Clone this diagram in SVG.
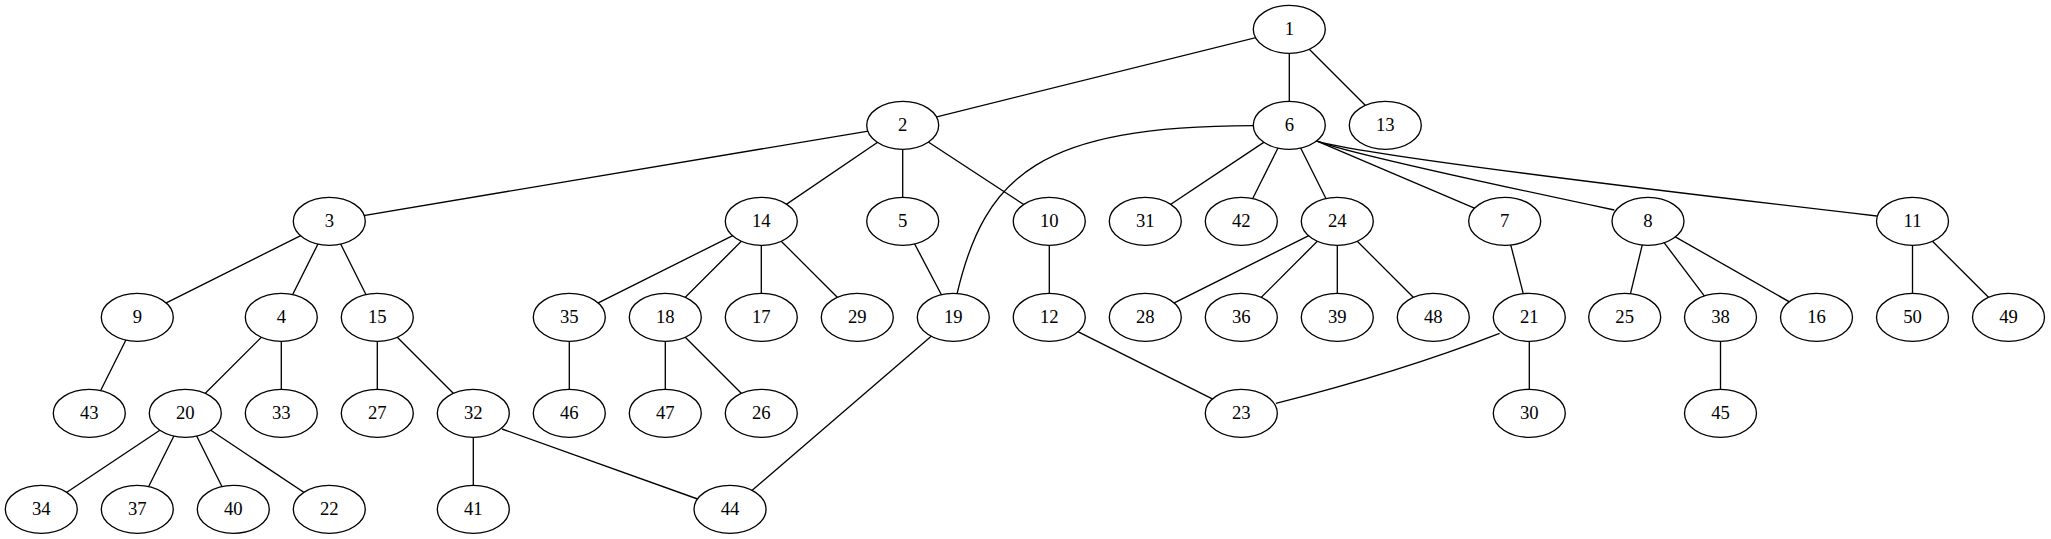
<svg xmlns="http://www.w3.org/2000/svg" width="2051" height="539" viewBox="0 0 2051 539">
<style>
.n ellipse{fill:#fff;stroke:#000;stroke-width:1.33}
.n text{font-family:"Liberation Serif","Times New Roman",serif;font-size:18.67px;text-anchor:middle;fill:#000}
#edges path,#edges line{fill:none;stroke:#000;stroke-width:1.33}
</style>
<rect width="2051" height="539" fill="#fff"/>
<g id="edges">
<line x1="1289.3" y1="29.3" x2="902.7" y2="125.3"/>
<line x1="1289.3" y1="29.3" x2="1289.3" y2="125.3"/>
<line x1="1289.3" y1="29.3" x2="1385.3" y2="125.3"/>
<line x1="902.7" y1="125.3" x2="329.3" y2="221.3"/>
<line x1="902.7" y1="125.3" x2="761.3" y2="221.3"/>
<line x1="902.7" y1="125.3" x2="902.7" y2="221.3"/>
<line x1="902.7" y1="125.3" x2="1049.3" y2="221.3"/>
<path d="M1253.5,125.7 C1040,126 985,175 957,294"/>
<line x1="1289.3" y1="125.3" x2="1145.3" y2="221.3"/>
<line x1="1289.3" y1="125.3" x2="1241.3" y2="221.3"/>
<line x1="1289.3" y1="125.3" x2="1337.3" y2="221.3"/>
<path d="M1316.5,140.8 L1475,208.3"/>
<path d="M1316.5,140.8 Q1345,153 1614.3,210"/>
<path d="M1316.5,140.8 Q1360,156 1876.8,216"/>
<line x1="329.3" y1="221.3" x2="137.3" y2="317.3"/>
<line x1="329.3" y1="221.3" x2="281.3" y2="317.3"/>
<line x1="329.3" y1="221.3" x2="377.3" y2="317.3"/>
<line x1="761.3" y1="221.3" x2="569.3" y2="317.3"/>
<line x1="761.3" y1="221.3" x2="665.3" y2="317.3"/>
<line x1="761.3" y1="221.3" x2="761.3" y2="317.3"/>
<line x1="761.3" y1="221.3" x2="857.3" y2="317.3"/>
<line x1="902.7" y1="221.3" x2="953.3" y2="317.3"/>
<line x1="1049.3" y1="221.3" x2="1049.3" y2="317.3"/>
<line x1="1337.3" y1="221.3" x2="1145.3" y2="317.3"/>
<line x1="1337.3" y1="221.3" x2="1241.3" y2="317.3"/>
<line x1="1337.3" y1="221.3" x2="1337.3" y2="317.3"/>
<line x1="1337.3" y1="221.3" x2="1433.3" y2="317.3"/>
<line x1="1504.7" y1="221.3" x2="1529.3" y2="317.3"/>
<line x1="1648" y1="221.3" x2="1624.7" y2="317.3"/>
<line x1="1648" y1="221.3" x2="1720.5" y2="317.3"/>
<line x1="1648" y1="221.3" x2="1816.5" y2="317.3"/>
<line x1="1912.5" y1="221.3" x2="1912.5" y2="317.3"/>
<line x1="1912.5" y1="221.3" x2="2008.5" y2="317.3"/>
<line x1="137.3" y1="317.3" x2="89.3" y2="413.3"/>
<line x1="281.3" y1="317.3" x2="185.3" y2="413.3"/>
<line x1="281.3" y1="317.3" x2="281.3" y2="413.3"/>
<line x1="377.3" y1="317.3" x2="377.3" y2="413.3"/>
<line x1="377.3" y1="317.3" x2="473.3" y2="413.3"/>
<line x1="569.3" y1="317.3" x2="569.3" y2="413.3"/>
<line x1="665.3" y1="317.3" x2="665.3" y2="413.3"/>
<line x1="665.3" y1="317.3" x2="761.3" y2="413.3"/>
<line x1="953.3" y1="317.3" x2="730" y2="509.3"/>
<line x1="1049.3" y1="317.3" x2="1241.3" y2="413.3"/>
<path d="M1499.6,333.3 Q1400,372 1275.9,403.3"/>
<line x1="1529.3" y1="317.3" x2="1529.3" y2="413.3"/>
<line x1="1720.5" y1="317.3" x2="1720.5" y2="413.3"/>
<line x1="185.3" y1="413.3" x2="41.3" y2="509.3"/>
<line x1="185.3" y1="413.3" x2="137.3" y2="509.3"/>
<line x1="185.3" y1="413.3" x2="233.3" y2="509.3"/>
<line x1="185.3" y1="413.3" x2="329.3" y2="509.3"/>
<line x1="473.3" y1="413.3" x2="473.3" y2="509.3"/>
<path d="M502,429 L699,499.5"/>
</g>
<g id="node1" class="n"><ellipse cx="1289.3" cy="29.3" rx="36" ry="24"/><text x="1289.3" y="35.3">1</text></g>
<g id="node2" class="n"><ellipse cx="902.7" cy="125.3" rx="36" ry="24"/><text x="902.7" y="131.3">2</text></g>
<g id="node6" class="n"><ellipse cx="1289.3" cy="125.3" rx="36" ry="24"/><text x="1289.3" y="131.3">6</text></g>
<g id="node13" class="n"><ellipse cx="1385.3" cy="125.3" rx="36" ry="24"/><text x="1385.3" y="131.3">13</text></g>
<g id="node3" class="n"><ellipse cx="329.3" cy="221.3" rx="36" ry="24"/><text x="329.3" y="227.3">3</text></g>
<g id="node14" class="n"><ellipse cx="761.3" cy="221.3" rx="36" ry="24"/><text x="761.3" y="227.3">14</text></g>
<g id="node5" class="n"><ellipse cx="902.7" cy="221.3" rx="36" ry="24"/><text x="902.7" y="227.3">5</text></g>
<g id="node10" class="n"><ellipse cx="1049.3" cy="221.3" rx="36" ry="24"/><text x="1049.3" y="227.3">10</text></g>
<g id="node31" class="n"><ellipse cx="1145.3" cy="221.3" rx="36" ry="24"/><text x="1145.3" y="227.3">31</text></g>
<g id="node42" class="n"><ellipse cx="1241.3" cy="221.3" rx="36" ry="24"/><text x="1241.3" y="227.3">42</text></g>
<g id="node24" class="n"><ellipse cx="1337.3" cy="221.3" rx="36" ry="24"/><text x="1337.3" y="227.3">24</text></g>
<g id="node7" class="n"><ellipse cx="1504.7" cy="221.3" rx="36" ry="24"/><text x="1504.7" y="227.3">7</text></g>
<g id="node8" class="n"><ellipse cx="1648" cy="221.3" rx="36" ry="24"/><text x="1648" y="227.3">8</text></g>
<g id="node11" class="n"><ellipse cx="1912.5" cy="221.3" rx="36" ry="24"/><text x="1912.5" y="227.3">11</text></g>
<g id="node9" class="n"><ellipse cx="137.3" cy="317.3" rx="36" ry="24"/><text x="137.3" y="323.3">9</text></g>
<g id="node4" class="n"><ellipse cx="281.3" cy="317.3" rx="36" ry="24"/><text x="281.3" y="323.3">4</text></g>
<g id="node15" class="n"><ellipse cx="377.3" cy="317.3" rx="36" ry="24"/><text x="377.3" y="323.3">15</text></g>
<g id="node35" class="n"><ellipse cx="569.3" cy="317.3" rx="36" ry="24"/><text x="569.3" y="323.3">35</text></g>
<g id="node18" class="n"><ellipse cx="665.3" cy="317.3" rx="36" ry="24"/><text x="665.3" y="323.3">18</text></g>
<g id="node17" class="n"><ellipse cx="761.3" cy="317.3" rx="36" ry="24"/><text x="761.3" y="323.3">17</text></g>
<g id="node29" class="n"><ellipse cx="857.3" cy="317.3" rx="36" ry="24"/><text x="857.3" y="323.3">29</text></g>
<g id="node19" class="n"><ellipse cx="953.3" cy="317.3" rx="36" ry="24"/><text x="953.3" y="323.3">19</text></g>
<g id="node12" class="n"><ellipse cx="1049.3" cy="317.3" rx="36" ry="24"/><text x="1049.3" y="323.3">12</text></g>
<g id="node28" class="n"><ellipse cx="1145.3" cy="317.3" rx="36" ry="24"/><text x="1145.3" y="323.3">28</text></g>
<g id="node36" class="n"><ellipse cx="1241.3" cy="317.3" rx="36" ry="24"/><text x="1241.3" y="323.3">36</text></g>
<g id="node39" class="n"><ellipse cx="1337.3" cy="317.3" rx="36" ry="24"/><text x="1337.3" y="323.3">39</text></g>
<g id="node48" class="n"><ellipse cx="1433.3" cy="317.3" rx="36" ry="24"/><text x="1433.3" y="323.3">48</text></g>
<g id="node21" class="n"><ellipse cx="1529.3" cy="317.3" rx="36" ry="24"/><text x="1529.3" y="323.3">21</text></g>
<g id="node25" class="n"><ellipse cx="1624.7" cy="317.3" rx="36" ry="24"/><text x="1624.7" y="323.3">25</text></g>
<g id="node38" class="n"><ellipse cx="1720.5" cy="317.3" rx="36" ry="24"/><text x="1720.5" y="323.3">38</text></g>
<g id="node16" class="n"><ellipse cx="1816.5" cy="317.3" rx="36" ry="24"/><text x="1816.5" y="323.3">16</text></g>
<g id="node50" class="n"><ellipse cx="1912.5" cy="317.3" rx="36" ry="24"/><text x="1912.5" y="323.3">50</text></g>
<g id="node49" class="n"><ellipse cx="2008.5" cy="317.3" rx="36" ry="24"/><text x="2008.5" y="323.3">49</text></g>
<g id="node43" class="n"><ellipse cx="89.3" cy="413.3" rx="36" ry="24"/><text x="89.3" y="419.3">43</text></g>
<g id="node20" class="n"><ellipse cx="185.3" cy="413.3" rx="36" ry="24"/><text x="185.3" y="419.3">20</text></g>
<g id="node33" class="n"><ellipse cx="281.3" cy="413.3" rx="36" ry="24"/><text x="281.3" y="419.3">33</text></g>
<g id="node27" class="n"><ellipse cx="377.3" cy="413.3" rx="36" ry="24"/><text x="377.3" y="419.3">27</text></g>
<g id="node32" class="n"><ellipse cx="473.3" cy="413.3" rx="36" ry="24"/><text x="473.3" y="419.3">32</text></g>
<g id="node46" class="n"><ellipse cx="569.3" cy="413.3" rx="36" ry="24"/><text x="569.3" y="419.3">46</text></g>
<g id="node47" class="n"><ellipse cx="665.3" cy="413.3" rx="36" ry="24"/><text x="665.3" y="419.3">47</text></g>
<g id="node26" class="n"><ellipse cx="761.3" cy="413.3" rx="36" ry="24"/><text x="761.3" y="419.3">26</text></g>
<g id="node23" class="n"><ellipse cx="1241.3" cy="413.3" rx="36" ry="24"/><text x="1241.3" y="419.3">23</text></g>
<g id="node30" class="n"><ellipse cx="1529.3" cy="413.3" rx="36" ry="24"/><text x="1529.3" y="419.3">30</text></g>
<g id="node45" class="n"><ellipse cx="1720.5" cy="413.3" rx="36" ry="24"/><text x="1720.5" y="419.3">45</text></g>
<g id="node34" class="n"><ellipse cx="41.3" cy="509.3" rx="36" ry="24"/><text x="41.3" y="515.3">34</text></g>
<g id="node37" class="n"><ellipse cx="137.3" cy="509.3" rx="36" ry="24"/><text x="137.3" y="515.3">37</text></g>
<g id="node40" class="n"><ellipse cx="233.3" cy="509.3" rx="36" ry="24"/><text x="233.3" y="515.3">40</text></g>
<g id="node22" class="n"><ellipse cx="329.3" cy="509.3" rx="36" ry="24"/><text x="329.3" y="515.3">22</text></g>
<g id="node41" class="n"><ellipse cx="473.3" cy="509.3" rx="36" ry="24"/><text x="473.3" y="515.3">41</text></g>
<g id="node44" class="n"><ellipse cx="730" cy="509.3" rx="36" ry="24"/><text x="730" y="515.3">44</text></g>
</svg>
